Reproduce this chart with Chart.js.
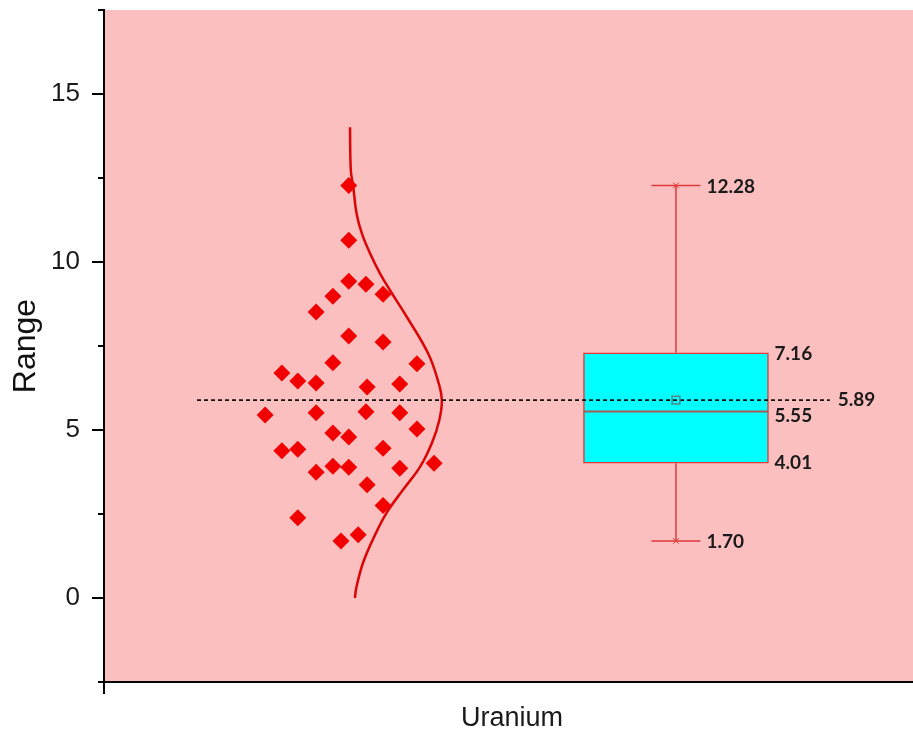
<!DOCTYPE html>
<html>
<head>
<meta charset="utf-8">
<script src="https://cdn.jsdelivr.net/npm/chart.js@4.4.1/dist/chart.umd.min.js"></script>
<style>
  html, body { margin: 0; padding: 0; background: #fff; }
</style>
</head>
<body>
<canvas id="grafico" width="913" height="735"></canvas>
<script>
// dados
const categorias = ['Uranium'];
const ticksY = [0, 5, 10, 15];
const ticksMenoresY = [-2.5, 2.5, 7.5, 12.5, 17.5];

// pontos (x = deslocamento dentro da categoria, y = valor)
const uranioX = [-0.400, -0.400, -0.480, -0.439, -0.400, -0.358, -0.316, -0.400, -0.316,
    -0.439, -0.233, -0.564, -0.525, -0.480, -0.355, -0.275, -0.605, -0.480, -0.358,
    -0.275, -0.233, -0.439, -0.400, -0.564, -0.525, -0.316, -0.480, -0.439, -0.400,
    -0.275, -0.191, -0.355, -0.316, -0.525, -0.419, -0.377];
const uranioY = [12.28, 10.65, 8.51, 8.98, 9.43, 9.34, 9.04, 7.80, 7.62,
    7.00, 6.97, 6.70, 6.46, 6.40, 6.28, 6.37, 5.45, 5.51, 5.54,
    5.51, 5.03, 4.91, 4.79, 4.38, 4.43, 4.46, 3.74, 3.92, 3.89,
    3.86, 4.01, 3.37, 2.75, 2.39, 1.70, 1.88];

// curva de distribuicao
const curvaY = [14.01, 12.73, 12.23, 11.45, 10.85, 10.26, 9.67, 9.16, 8.37, 7.29,
    6.49, 5.90, 5.30, 4.62, 3.91, 3.22, 2.54, 1.74, 1.05, 0.34, 0.00];
const curvaX = [-0.397, -0.395, -0.389, -0.381, -0.368, -0.348, -0.324, -0.299, -0.258, -0.206,
    -0.182, -0.172, -0.178, -0.196, -0.225, -0.267, -0.307, -0.341, -0.365, -0.381, -0.385];

// caixa: minimo, Q1, mediana, Q3, maximo
const caixaValores = [1.70, 4.01, 5.55, 7.30, 12.28];
const caixaRotulos = ['1.70', '4.01', '5.55', '7.16', '12.28'];
const media = 5.89;
const mediaRotulo = '5.89';

// posicoes e estilos
const centroCaixa = 0.402;
const meiaLarguraCaixa = 0.227;
const meiaLarguraCapa = 0.060;
const linhaMediaDe = -0.772, linhaMediaAte = 0.779;
const vermelho = '#f20000';
const vermelhoCaixa = '#e03a3a';

const [vMin, q1, mediana, q3, vMax] = caixaValores;

function pares(xs, ys) {
    return xs.map((x, i) => ({ x: x, y: ys[i] }));
}

function semPadding(s) {
    s.paddingTop = 0;
    s.paddingBottom = 0;
    s.paddingLeft = 0;
    s.paddingRight = 0;
}

const fundo = {
    id: 'fundo',
    beforeDraw(chart) {
        const { ctx, chartArea: a } = chart;
        ctx.save();
        ctx.fillStyle = '#fbbfc0';
        ctx.fillRect(a.left, a.top, a.right - a.left, a.bottom - a.top);
        ctx.restore();
    }
};

const ticksMenores = {
    id: 'ticksMenores',
    afterDraw(chart) {
        const { ctx, chartArea: a } = chart;
        const y = chart.scales.y;
        ctx.save();
        ctx.strokeStyle = '#000';
        ctx.lineWidth = 2;
        ticksMenoresY.forEach(v => {
            const py = Math.round(y.getPixelForValue(v));
            ctx.beginPath();
            ctx.moveTo(a.left - 6, py);
            ctx.lineTo(a.left, py);
            ctx.stroke();
        });
        ctx.restore();
    }
};

const rotulos = {
    id: 'rotulos',
    afterDatasetsDraw(chart) {
        const { ctx } = chart;
        const x = chart.scales.x, y = chart.scales.y;
        ctx.save();
        ctx.font = 'bold 19px Lato';
        ctx.fillStyle = '#1a1a1a';
        ctx.textBaseline = 'middle';
        ctx.textAlign = 'left';
        const xCapa = x.getPixelForValue(centroCaixa + meiaLarguraCapa) + 6;
        const xCaixa = x.getPixelForValue(centroCaixa + meiaLarguraCaixa) + 6;
        ctx.fillText(caixaRotulos[4], xCapa, y.getPixelForValue(vMax) + 1);
        ctx.fillText(caixaRotulos[0], xCapa, y.getPixelForValue(vMin) + 1);
        ctx.fillText(caixaRotulos[3], xCaixa, y.getPixelForValue(q3) + 1);
        ctx.fillText(caixaRotulos[2], xCaixa, y.getPixelForValue(mediana) + 4);
        ctx.fillText(caixaRotulos[1], xCaixa, y.getPixelForValue(q1));
        ctx.fillText(mediaRotulo, x.getPixelForValue(linhaMediaAte) + 8, y.getPixelForValue(media));
        ctx.restore();
    }
};

const fonteEixo = { family: 'Liberation Sans', size: 26 };

new Chart(document.getElementById('grafico'), {
    type: 'scatter',
    data: {
        datasets: [
            {
                type: 'scatter',
                data: [{ x: centroCaixa, y: media }],
                pointStyle: 'rect',
                pointRadius: 5.5,
                backgroundColor: 'rgba(0,0,0,0)',
                borderColor: '#5b8284',
                borderWidth: 1.5
            },
            {
                type: 'line',
                data: [{ x: linhaMediaDe, y: media }, { x: linhaMediaAte, y: media }],
                borderColor: '#111',
                borderWidth: 1.6,
                borderDash: [4, 3],
                pointRadius: 0,
                fill: false
            },
            {
                type: 'scatter',
                data: [{ x: centroCaixa, y: vMax }, { x: centroCaixa, y: vMin }],
                pointStyle: 'crossRot',
                pointRadius: 4,
                borderColor: vermelhoCaixa,
                borderWidth: 1
            },
            {
                type: 'line',
                data: [
                    { x: centroCaixa - meiaLarguraCapa, y: vMax }, { x: centroCaixa + meiaLarguraCapa, y: vMax },
                    { x: centroCaixa, y: null },
                    { x: centroCaixa - meiaLarguraCapa, y: vMin }, { x: centroCaixa + meiaLarguraCapa, y: vMin }
                ],
                borderColor: vermelhoCaixa,
                borderWidth: 1.5,
                pointRadius: 0,
                fill: false
            },
            {
                type: 'line',
                data: [
                    { x: centroCaixa, y: q3 }, { x: centroCaixa, y: vMax },
                    { x: centroCaixa, y: null },
                    { x: centroCaixa, y: q1 }, { x: centroCaixa, y: vMin }
                ],
                borderColor: vermelhoCaixa,
                borderWidth: 1.5,
                pointRadius: 0,
                fill: false
            },
            {
                type: 'line',
                data: [{ x: centroCaixa - meiaLarguraCaixa, y: mediana }, { x: centroCaixa + meiaLarguraCaixa, y: mediana }],
                borderColor: '#a65a5a',
                borderWidth: 2,
                pointRadius: 0,
                fill: false
            },
            {
                type: 'bar',
                data: [{ x: centroCaixa, y: [q1, q3] }],
                backgroundColor: '#00ffff',
                borderColor: vermelhoCaixa,
                borderWidth: 1.5,
                borderSkipped: false,
                barThickness: 185,
                grouped: false
            },
            {
                type: 'scatter',
                data: pares(uranioX, uranioY),
                pointStyle: 'rectRot',
                pointRadius: 8.5,
                backgroundColor: vermelho,
                borderColor: vermelho,
                borderWidth: 0
            },
            {
                type: 'line',
                data: pares(curvaX, curvaY),
                borderColor: '#dc0505',
                borderWidth: 2.5,
                tension: 0.4,
                pointRadius: 0,
                fill: false
            }
        ]
    },
    options: {
        responsive: false,
        animation: false,
        layout: { autoPadding: false, padding: { top: 10, left: 0, right: 0, bottom: 0 } },
        plugins: {
            legend: { display: false },
            tooltip: { enabled: false }
        },
        scales: {
            x: {
                type: 'linear',
                min: -1,
                max: 0.983,
                offset: false,
                afterBuildTicks: s => { s.ticks = categorias.map((c, i) => ({ value: i })); },
                afterFit: s => { s.height = 53; semPadding(s); },
                border: { display: true, color: '#000', width: 2 },
                grid: { drawOnChartArea: false, drawTicks: true, tickLength: 12, color: '#000', lineWidth: 2 },
                ticks: {
                    callback: v => categorias[v],
                    font: { family: 'Liberation Sans', size: 27 },
                    color: '#1a1a1a',
                    padding: 8,
                    maxRotation: 0,
                    autoSkip: false
                }
            },
            y: {
                min: -2.5,
                max: 17.5,
                afterBuildTicks: s => { s.ticks = ticksY.map(v => ({ value: v })); },
                afterFit: s => { s.width = 104; semPadding(s); },
                border: { display: true, color: '#000', width: 2 },
                grid: { drawOnChartArea: false, drawTicks: true, tickLength: 12, color: '#000', lineWidth: 2 },
                ticks: { font: fonteEixo, color: '#1a1a1a', padding: 12 },
                title: {
                    display: true,
                    text: 'Range',
                    font: { family: 'Liberation Sans', size: 32 },
                    color: '#111',
                    padding: { top: 7, bottom: 0 }
                }
            }
        }
    },
    plugins: [fundo, ticksMenores, rotulos]
});
</script>
</body>
</html>
